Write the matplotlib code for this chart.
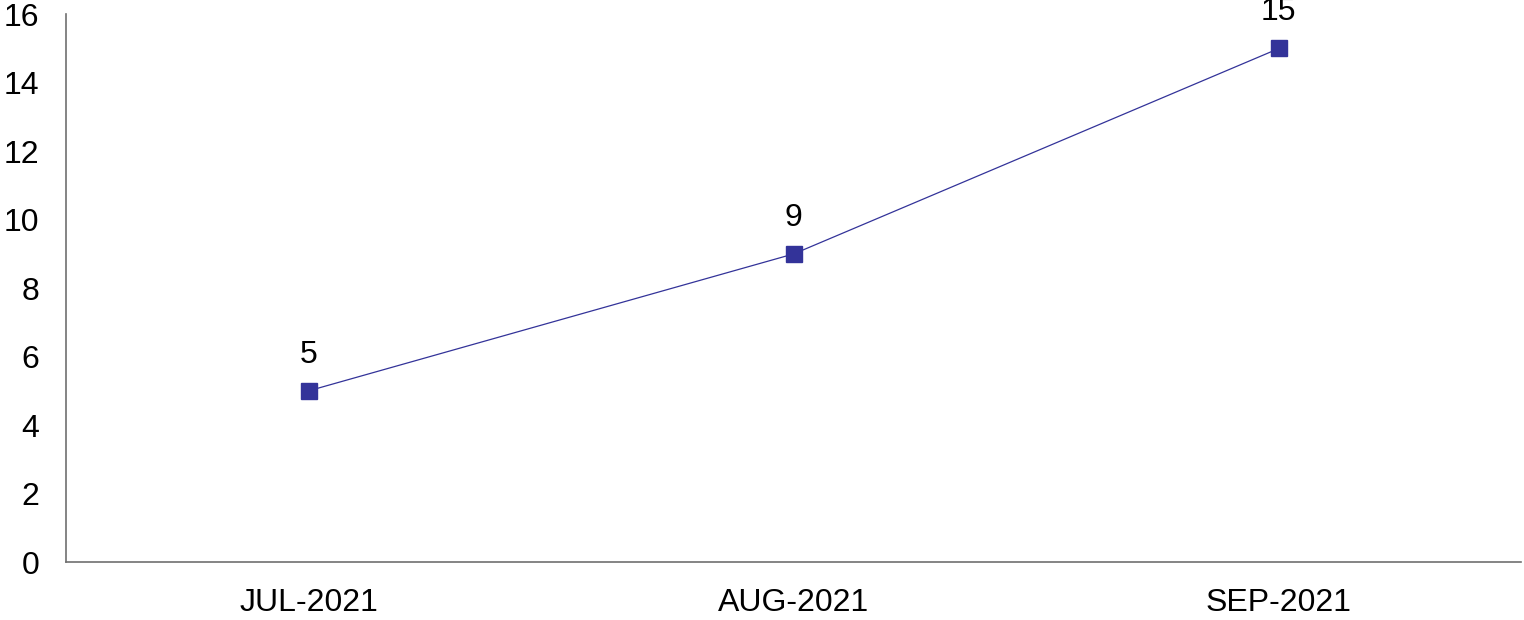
import matplotlib
matplotlib.use("Agg")
import matplotlib.pyplot as plt

# data
months = ["JUL-2021", "AUG-2021", "SEP-2021"]
counts = [5, 9, 15]
y_ticks = [0, 2, 4, 6, 8, 10, 12, 14, 16]

plt.rcParams['font.family'] = ['Liberation Sans', 'DejaVu Sans']

fig = plt.figure(figsize=(15.24, 6.2), dpi=100)
ax = fig.add_axes([0.0433, 0.0935, 0.955, 0.8835])

x = list(range(len(months)))
ax.plot(x, counts, color="#333399", linewidth=0.9, marker="s",
        markersize=11, markerfacecolor="#333399", markeredgecolor="#333399")

# value labels above points
for xi, v in zip(x, counts):
    ax.annotate(str(v), (xi, v), xytext=(0, 26), textcoords="offset points",
                ha="center", va="center", fontsize=23, color="black")

ax.set_xlim(-0.5, len(months) - 0.5)
ax.set_ylim(0, 16)
ax.set_xticks(x)
ax.set_xticklabels(months)
ax.set_yticks(y_ticks)
ax.tick_params(axis="both", length=0, labelsize=23, colors="black")
ax.tick_params(axis="y", pad=19)
ax.tick_params(axis="x", pad=19)

for side in ["top", "right"]:
    ax.spines[side].set_visible(False)
for side in ["left", "bottom"]:
    ax.spines[side].set_color("#707070")
    ax.spines[side].set_linewidth(1.2)

fig.savefig("out.png", dpi=100)
